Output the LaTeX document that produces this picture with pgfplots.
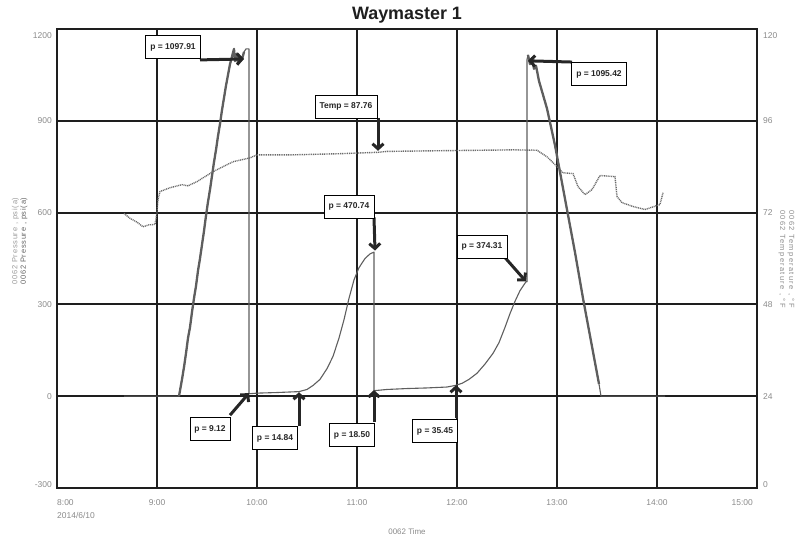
\documentclass[border=0pt]{standalone}
\usepackage{pgfplots}
\pgfplotsset{compat=1.18}
\usepackage{fontspec}
\setmainfont{Liberation Sans}
\newfontfamily\spacedA[LetterSpace=10]{Liberation Sans}
\newfontfamily\spacedB[LetterSpace=18]{Liberation Sans}
\usetikzlibrary{arrows.meta}
\definecolor{gridc}{HTML}{1E1E1E}
\definecolor{tickc}{HTML}{8A8A8A}
\definecolor{pc}{HTML}{5E5E5E}
\definecolor{tc}{HTML}{6A6A6A}

\pgfplotstableread{
h p
8.67 0
9.22 0
9.25 55
9.27 95
9.29 140
9.31 190
9.33 225
9.35 275
9.37 320
9.39 360
9.41 410
9.43 450
9.45 495
9.47 540
9.49 590
9.51 635
9.53 675
9.55 720
9.57 765
9.59 805
9.61 850
9.63 890
9.65 935
9.67 975
9.69 1015
9.71 1050
9.73 1085
9.75 1110
9.77 1135
9.78 1095
9.80 1120
9.81 1085
9.83 1110
9.85 1100
9.87 1125
9.89 1135
9.92 1135
9.92 8
10.00 10
10.20 12
10.42 15
10.50 22
10.56 35
10.63 55
10.70 90
10.76 130
10.82 190
10.87 250
10.92 320
10.97 380
11.02 420
11.08 450
11.13 465
11.17 471
11.17 18
11.30 22
11.50 25
11.70 27
11.90 30
11.98 35
12.05 42
12.12 55
12.20 75
12.28 105
12.36 140
12.42 175
12.48 225
12.53 270
12.58 310
12.63 345
12.69 374
12.70 374
12.70 1100
12.71 1115
12.73 1085
12.75 1105
12.77 1070
12.79 1080
12.82 1030
12.86 985
12.90 940
12.94 880
12.98 820
13.02 750
13.06 680
13.10 610
13.14 540
13.18 470
13.22 395
13.26 320
13.30 250
13.34 180
13.38 110
13.42 40
13.44 0
14.08 0
}\pfull

\pgfplotstableread{
h p
9.22 0
9.25 55
9.27 95
9.29 140
9.31 190
9.33 225
9.35 275
9.37 320
9.39 360
9.41 410
9.43 450
9.45 495
9.47 540
9.49 590
9.51 635
9.53 675
9.55 720
9.57 765
9.59 805
9.61 850
9.63 890
9.65 935
9.67 975
9.69 1015
9.71 1050
9.73 1085
9.75 1110
9.77 1135
9.78 1095
9.80 1120
9.81 1085
9.83 1110
9.85 1100
9.87 1125
}\prampA

\pgfplotstableread{
h p
12.71 1115
12.73 1085
12.75 1105
12.77 1070
12.79 1080
12.82 1030
12.86 985
12.90 940
12.94 880
12.98 820
13.02 750
13.06 680
13.10 610
13.14 540
13.18 470
13.22 395
13.26 320
13.30 250
13.34 180
13.38 110
13.42 40
}\prampB

\pgfplotstableread{
h T
8.67 71.8
8.73 70.5
8.80 69.5
8.86 68.3
8.92 68.8
8.98 68.9
9.00 72.0
9.01 75.4
9.03 77.5
9.13 78.5
9.25 79.3
9.31 79.0
9.40 80.1
9.56 82.7
9.76 85.3
9.93 86.3
10.00 87.1
10.36 87.1
10.83 87.4
11.21 87.76
11.30 88.0
11.90 88.2
12.56 88.4
12.80 88.3
12.90 86.6
13.00 84.0
13.06 82.4
13.16 82.2
13.21 78.8
13.28 76.7
13.35 78.0
13.43 81.7
13.58 81.4
13.60 76.2
13.65 74.6
13.76 73.6
13.88 72.8
14.03 74.1
14.06 77.2
}\temp

\begin{document}
\begin{tikzpicture}
\useasboundingbox (-57bp,-53bp) rectangle (752bp,488bp);
\begin{axis}[
  at={(0,0)}, anchor=south west,
  scale only axis, width=700bp, height=459bp,
  xmin=8, xmax=15, ymin=-300, ymax=1200,
  xtick={8,9,...,15}, ytick={-300,0,300,600,900,1200},
  xticklabels={,9:00,10:00,11:00,12:00,13:00,14:00,},
  yticklabels={,0,300,600,900,},
  major tick length=0,
  xmajorgrids, ymajorgrids,
  x grid style={gridc, line width=1.2bp},
  y grid style={gridc, line width=2.1bp},
  axis line style={gridc, line width=1.5bp},
  tick label style={font=\fontsize{8.5}{10}\selectfont, text=tickc},
  yticklabel style={anchor=east, inner sep=0pt, xshift=-5bp},
  xticklabel style={anchor=north, inner sep=0pt, yshift=-11bp},
  clip=false,
]
\addplot[pc, line width=1.1bp, line join=round] table[x=h,y=p] {\pfull};
\addplot[pc, line width=2.3bp, line join=round] table[x=h,y=p] {\prampA};
\addplot[pc, line width=2.3bp, line join=round] table[x=h,y=p] {\prampB};
% end tick labels
\node[anchor=east, inner sep=0pt, font=\fontsize{8.5}{10}\selectfont, text=tickc] at ([xshift=-5bp,yshift=-7bp]axis cs:8,1200) {1200};
\node[anchor=east, inner sep=0pt, font=\fontsize{8.5}{10}\selectfont, text=tickc] at ([xshift=-5bp,yshift=3bp]axis cs:8,-300) {-300};
\node[anchor=north west, inner sep=0pt, align=left, font=\fontsize{8.5}{13}\selectfont, text=tickc] at ([yshift=-11bp]axis cs:8,-300) {8:00\\2014/6/10};
\node[anchor=north east, inner sep=0pt, font=\fontsize{8.5}{10}\selectfont, text=tickc] at ([xshift=-4bp,yshift=-11bp]axis cs:15,-300) {15:00};
% annotation coordinates
\coordinate (b1) at (axis cs:9.16,1141);
\coordinate (s1) at (axis cs:9.43,1099); \coordinate (e1) at (axis cs:9.87,1102);
\coordinate (b2) at (axis cs:10.89,946);
\coordinate (s2) at (axis cs:11.21,910); \coordinate (e2) at (axis cs:11.21,802);
\coordinate (b3) at (axis cs:10.92,620);
\coordinate (s3) at (axis cs:11.17,584); \coordinate (e3) at (axis cs:11.18,476);
\coordinate (b4) at (axis cs:12.25,489);
\coordinate (s4) at (axis cs:12.48,453); \coordinate (e4) at (axis cs:12.69,375);
\coordinate (b5) at (axis cs:13.42,1053);
\coordinate (s5) at (axis cs:13.15,1092); \coordinate (e5) at (axis cs:12.71,1096);
\coordinate (b6) at (axis cs:9.53,-108);
\coordinate (s6) at (axis cs:9.73,-62); \coordinate (e6) at (axis cs:9.92,10);
\coordinate (b7) at (axis cs:10.18,-137);
\coordinate (s7) at (axis cs:10.42,-98); \coordinate (e7) at (axis cs:10.42,13);
\coordinate (b8) at (axis cs:10.95,-127);
\coordinate (s8) at (axis cs:11.17,-85); \coordinate (e8) at (axis cs:11.17,20);
\coordinate (b9) at (axis cs:11.78,-114);
\coordinate (s9) at (axis cs:11.99,-72); \coordinate (e9) at (axis cs:11.99,36);
\end{axis}

\begin{axis}[
  at={(0,0)}, anchor=south west,
  scale only axis, width=700bp, height=459bp,
  xmin=8, xmax=15, ymin=0, ymax=120,
  axis x line=none, axis y line*=right,
  ytick={0,24,48,72,96,120},
  yticklabels={,24,48,72,96,},
  major tick length=0,
  axis line style={gridc, line width=1.5bp},
  tick label style={font=\fontsize{8.5}{10}\selectfont, text=tickc},
  yticklabel style={anchor=west, inner sep=0pt, xshift=6bp},
  clip=false,
]
\addplot[tc, line width=1.4bp, dash pattern=on 1bp off 0.8bp] table[x=h,y=T] {\temp};
\node[anchor=west, inner sep=0pt, font=\fontsize{8.5}{10}\selectfont, text=tickc] at ([xshift=6bp,yshift=-7bp]axis cs:15,120) {120};
\node[anchor=west, inner sep=0pt, font=\fontsize{8.5}{10}\selectfont, text=tickc] at ([xshift=6bp,yshift=3bp]axis cs:15,0) {0};
\end{axis}

% thicker top and bottom frame
\draw[gridc, line width=2.6bp] (0,0) -- (700bp,0);
\draw[gridc, line width=2.6bp] (0,459bp) -- (700bp,459bp);

% arrows
\begin{scope}[line width=3bp, color=black!85, -{Straight Barb[length=5bp,width=11bp]}]
\draw (s1) -- (e1);
\draw (s2) -- (e2);
\draw (s3) -- (e3);
\draw (s4) -- (e4);
\draw (s5) -- (e5);
\draw (s6) -- (e6);
\draw (s7) -- (e7);
\draw (s8) -- (e8);
\draw (s9) -- (e9);
\end{scope}
% boxes
\begin{scope}[every node/.style={draw=black, fill=white, line width=0.6bp, inner xsep=4.5bp, minimum height=23bp, font=\bfseries\fontsize{8.5}{10}\selectfont, text=black!85}]
\node at (b1) {p = 1097.91};
\node at (b2) {Temp = 87.76};
\node at (b3) {p = 470.74};
\node at (b4) {p = 374.31};
\node at (b5) {p = 1095.42};
\node at (b6) {p = 9.12};
\node at (b7) {p = 14.84};
\node at (b8) {p = 18.50};
\node at (b9) {p = 35.45};
\end{scope}

% title and labels
\node[font=\bfseries\fontsize{18}{20}\selectfont, text=black!88] at (350bp,473bp) {Waymaster 1};
\node[font=\fontsize{8}{10}\selectfont, text=tickc] at (350bp,-44bp) {0062 Time};
\node[rotate=90, font=\spacedA\fontsize{7.5}{9}\selectfont, text=black!40] at (-41.5bp,247bp) {0062 Pressure , psi(a)};
\node[rotate=90, font=\spacedA\fontsize{7.5}{9}\selectfont, text=black!62] at (-33bp,247bp) {0062 Pressure , psi(a)};
\node[rotate=-90, font=\spacedB\fontsize{7.5}{9}\selectfont, text=black!45] at (725bp,229bp) {0062 Temperature , \textdegree F};
\node[rotate=-90, font=\spacedB\fontsize{7.5}{9}\selectfont, text=black!45] at (734bp,229bp) {0062 Temperature , \textdegree F};
\end{tikzpicture}
\end{document}
